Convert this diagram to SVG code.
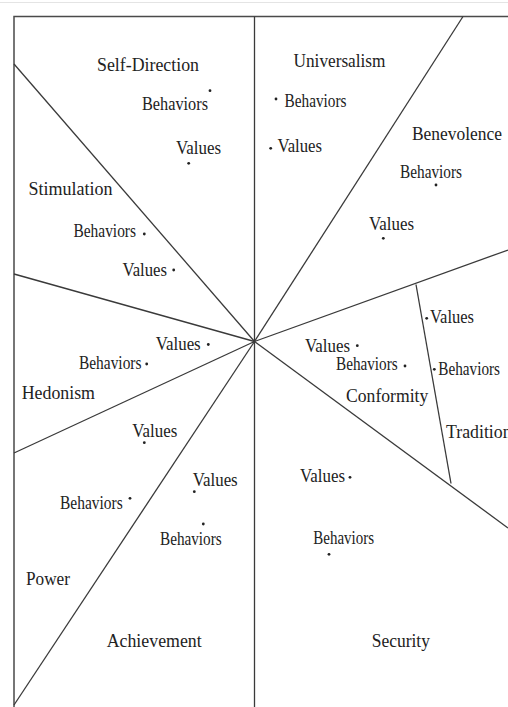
<svg xmlns="http://www.w3.org/2000/svg" width="508" height="707" viewBox="0 0 508 707">
<style>
  .ln { stroke: #3a3a3a; stroke-width: 1.3; fill: none; }
  .fr { stroke: #4a4a4a; stroke-width: 1.5; fill: none; }
  text { font-family: "Liberation Serif", "Times New Roman", serif; font-size: 19px; fill: #222; }
  .dot { fill: #222; }
</style>
<rect width="508" height="707" fill="#fff"/>
<line x1="0" y1="2.5" x2="508" y2="2.5" stroke="#e4e4e4" stroke-width="1"/>
<g id="connectors">
  <polyline class="fr" points="14,707 14,16.5 508,16.5"/>
  <line class="ln" x1="254.5" y1="16.5" x2="254.5" y2="707"/>
  <line class="ln" x1="14" y1="64" x2="254.5" y2="341.5"/>
  <line class="ln" x1="14" y1="274" x2="254.5" y2="341.5"/>
  <line class="ln" x1="14" y1="453" x2="254.5" y2="341.5"/>
  <line class="ln" x1="14" y1="705" x2="254.5" y2="341.5"/>
  <line class="ln" x1="463" y1="16.5" x2="254.5" y2="341.5"/>
  <line class="ln" x1="508" y1="250" x2="254.5" y2="341.5"/>
  <line class="ln" x1="508" y1="528" x2="254.5" y2="341.5"/>
  <line class="ln" x1="416" y1="284.5" x2="451" y2="483.5"/>
</g>
<g id="self-direction">
  <text x="97" y="71" textLength="102" lengthAdjust="spacingAndGlyphs">Self-Direction</text>
  <text x="142" y="109.5" textLength="66" lengthAdjust="spacingAndGlyphs">Behaviors</text>
  <circle class="dot" cx="210" cy="90.7" r="1.4"/>
  <text x="176" y="153.5" textLength="45" lengthAdjust="spacingAndGlyphs">Values</text>
  <circle class="dot" cx="188.7" cy="163.3" r="1.4"/>
</g>
<g id="universalism">
  <text x="293.5" y="67" textLength="92" lengthAdjust="spacingAndGlyphs">Universalism</text>
  <circle class="dot" cx="276" cy="99" r="1.4"/>
  <text x="284.5" y="107" textLength="62" lengthAdjust="spacingAndGlyphs">Behaviors</text>
  <circle class="dot" cx="270.7" cy="148.3" r="1.4"/>
  <text x="277.5" y="152" textLength="44.5" lengthAdjust="spacingAndGlyphs">Values</text>
</g>
<g id="benevolence">
  <text x="412" y="140" textLength="90" lengthAdjust="spacingAndGlyphs">Benevolence</text>
  <text x="400" y="178" textLength="62" lengthAdjust="spacingAndGlyphs">Behaviors</text>
  <circle class="dot" cx="436" cy="185" r="1.4"/>
  <text x="369" y="229.5" textLength="45" lengthAdjust="spacingAndGlyphs">Values</text>
  <circle class="dot" cx="383.3" cy="238.3" r="1.4"/>
</g>
<g id="stimulation">
  <text x="28.5" y="195" textLength="84" lengthAdjust="spacingAndGlyphs">Stimulation</text>
  <text x="73.5" y="237" textLength="62.5" lengthAdjust="spacingAndGlyphs">Behaviors</text>
  <circle class="dot" cx="144.3" cy="234" r="1.4"/>
  <text x="122.5" y="276" textLength="44.5" lengthAdjust="spacingAndGlyphs">Values</text>
  <circle class="dot" cx="173.7" cy="270" r="1.4"/>
</g>
<g id="hedonism">
  <text x="155.7" y="349.5" textLength="45" lengthAdjust="spacingAndGlyphs">Values</text>
  <circle class="dot" cx="208.3" cy="344.5" r="1.4"/>
  <text x="79" y="368.5" textLength="62.5" lengthAdjust="spacingAndGlyphs">Behaviors</text>
  <circle class="dot" cx="146.7" cy="364" r="1.4"/>
  <text x="21.7" y="399" textLength="73.3" lengthAdjust="spacingAndGlyphs">Hedonism</text>
</g>
<g id="power">
  <text x="132.3" y="437" textLength="45" lengthAdjust="spacingAndGlyphs">Values</text>
  <circle class="dot" cx="144.3" cy="442.7" r="1.4"/>
  <text x="60" y="508.5" textLength="62.7" lengthAdjust="spacingAndGlyphs">Behaviors</text>
  <circle class="dot" cx="130" cy="498.3" r="1.4"/>
  <text x="26" y="585" textLength="44" lengthAdjust="spacingAndGlyphs">Power</text>
</g>
<g id="achievement">
  <text x="192.7" y="486" textLength="45" lengthAdjust="spacingAndGlyphs">Values</text>
  <circle class="dot" cx="194.3" cy="491.7" r="1.4"/>
  <circle class="dot" cx="203.3" cy="524" r="1.4"/>
  <text x="160" y="545" textLength="61.7" lengthAdjust="spacingAndGlyphs">Behaviors</text>
  <text x="106.7" y="647" textLength="95" lengthAdjust="spacingAndGlyphs">Achievement</text>
</g>
<g id="conformity">
  <text x="305" y="352" textLength="45" lengthAdjust="spacingAndGlyphs">Values</text>
  <circle class="dot" cx="357.3" cy="345.7" r="1.4"/>
  <text x="336" y="370" textLength="61.7" lengthAdjust="spacingAndGlyphs">Behaviors</text>
  <circle class="dot" cx="405" cy="366" r="1.4"/>
  <text x="346" y="401.7" textLength="82.3" lengthAdjust="spacingAndGlyphs">Conformity</text>
</g>
<g id="tradition">
  <circle class="dot" cx="426.7" cy="318.3" r="1.4"/>
  <text x="430" y="323" textLength="44" lengthAdjust="spacingAndGlyphs">Values</text>
  <circle class="dot" cx="434.3" cy="369.3" r="1.4"/>
  <text x="438.3" y="375" textLength="61.7" lengthAdjust="spacingAndGlyphs">Behaviors</text>
  <text x="446" y="437.5" textLength="65.6" lengthAdjust="spacingAndGlyphs">Tradition</text>
</g>
<g id="security">
  <text x="300" y="482" textLength="45" lengthAdjust="spacingAndGlyphs">Values</text>
  <circle class="dot" cx="350" cy="477.3" r="1.4"/>
  <text x="313.3" y="543.5" textLength="60.7" lengthAdjust="spacingAndGlyphs">Behaviors</text>
  <circle class="dot" cx="329" cy="554.3" r="1.4"/>
  <text x="371.7" y="647" textLength="58.3" lengthAdjust="spacingAndGlyphs">Security</text>
</g>
</svg>
